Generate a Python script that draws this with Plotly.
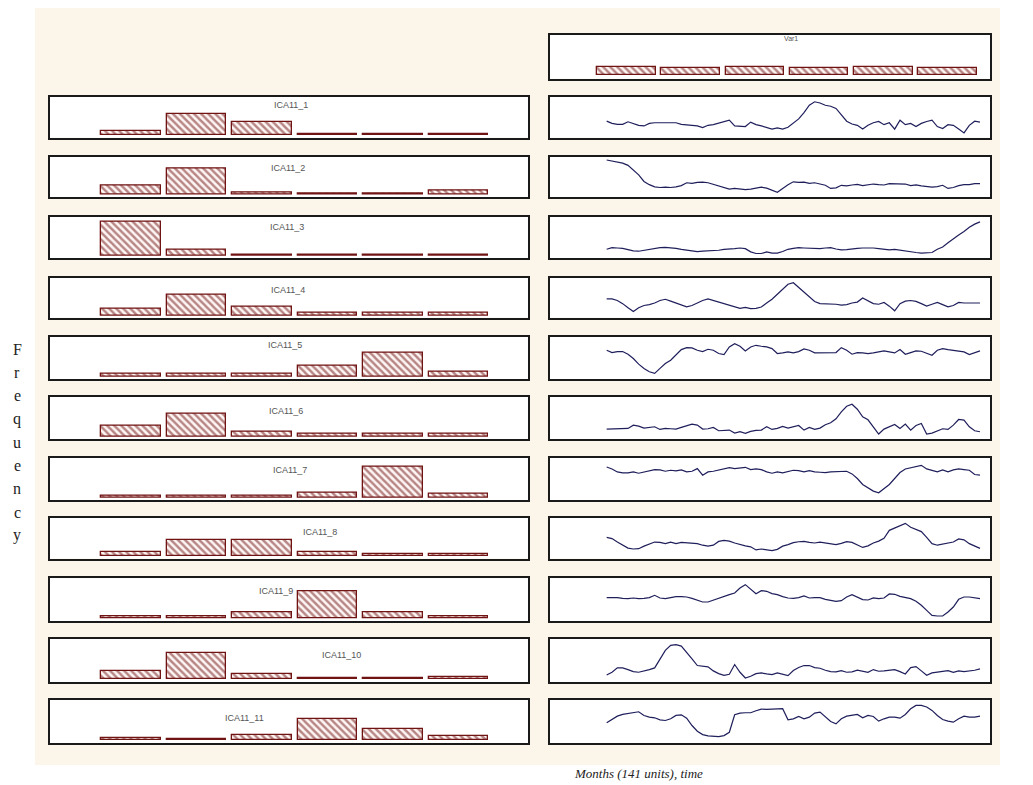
import plotly.graph_objects as go

W, H = 1033, 785

# ---------------- data ----------------
months = list(range(1, 142, 2))  # sampled months (141 units)

series_names = ["ICA11_1", "ICA11_2", "ICA11_3", "ICA11_4", "ICA11_5", "ICA11_6",
                "ICA11_7", "ICA11_8", "ICA11_9", "ICA11_10", "ICA11_11"]

ica11_1 = [55, 48, 45, 45, 53, 47, 42, 40, 48, 50, 50, 50, 52, 50, 45, 44, 42, 40, 35, 42,
           44, 48, 54, 58, 40, 38, 38, 52, 44, 40, 34, 30, 34, 30, 36, 50, 62, 82, 105, 116,
           112, 105, 102, 95, 75, 55, 46, 42, 30, 42, 50, 54, 44, 50, 30, 58, 44, 48, 38, 48,
           54, 58, 38, 32, 44, 42, 30, 18, 42, 55, 52]
ica11_2 = [120, 117, 115, 110, 103, 88, 73, 52, 42, 35, 33, 34, 33, 35, 39, 48, 46, 49, 50, 48,
           43, 38, 31, 28, 30, 28, 26, 28, 31, 34, 31, 24, 18, 30, 42, 51, 49, 50, 46, 48,
           45, 40, 30, 32, 40, 38, 41, 43, 39, 42, 44, 42, 41, 45, 44, 43, 44, 39, 41, 38,
           35, 34, 36, 40, 30, 33, 39, 42, 42, 45, 45]
ica11_3 = [30, 35, 34, 33, 29, 25, 24, 27, 30, 32, 35, 36, 35, 33, 30, 27, 25, 23, 24, 25,
           25, 27, 30, 30, 32, 34, 32, 22, 17, 17, 22, 18, 18, 23, 30, 33, 35, 34, 33, 31,
           32, 34, 35, 31, 28, 29, 32, 33, 34, 35, 34, 32, 30, 28, 30, 27, 24, 23, 20, 18,
           18, 20, 30, 37, 50, 63, 74, 85, 98, 108, 115]
ica11_4 = [63, 63, 58, 48, 35, 23, 35, 42, 45, 50, 58, 62, 56, 50, 42, 38, 42, 50, 58, 63,
           58, 53, 50, 45, 38, 33, 36, 32, 33, 37, 50, 62, 78, 95, 110, 115, 100, 85, 72, 55,
           48, 48, 46, 46, 43, 45, 50, 53, 66, 58, 48, 46, 52, 40, 25, 48, 56, 58, 55, 48,
           40, 46, 52, 45, 38, 42, 52, 50, 50, 48, 50]
ica11_5 = [90, 83, 86, 86, 78, 65, 48, 35, 25, 20, 35, 50, 60, 76, 92, 98, 97, 90, 86, 93,
           90, 80, 77, 100, 110, 102, 88, 100, 105, 102, 100, 95, 80, 82, 85, 82, 86, 94, 90, 82,
           82, 82, 82, 83, 98, 90, 78, 83, 82, 80, 82, 85, 88, 85, 82, 92, 78, 83, 88, 87,
           80, 75, 90, 95, 92, 90, 88, 85, 77, 82, 88]
ica11_6 = [33, 33, 33, 33, 35, 45, 42, 36, 37, 40, 32, 35, 34, 33, 38, 43, 48, 45, 33, 34,
           38, 28, 29, 30, 21, 25, 20, 26, 29, 30, 40, 32, 35, 41, 36, 40, 44, 30, 38, 32,
           36, 46, 52, 64, 85, 102, 108, 93, 70, 61, 40, 18, 33, 40, 47, 35, 48, 30, 44, 50,
           18, 21, 28, 34, 32, 45, 62, 60, 40, 28, 25]
ica11_7 = [103, 97, 88, 85, 85, 88, 84, 87, 90, 95, 94, 90, 93, 91, 94, 88, 90, 98, 78, 88,
           90, 93, 98, 101, 98, 100, 102, 95, 97, 95, 88, 84, 88, 85, 90, 93, 92, 88, 92, 88,
           87, 86, 88, 88, 90, 90, 82, 68, 50, 40, 30, 25, 37, 50, 68, 86, 97, 100, 105, 108,
           97, 93, 88, 94, 88, 94, 97, 95, 93, 80, 78]
ica11_8 = [70, 66, 55, 45, 36, 33, 34, 42, 48, 55, 54, 50, 55, 50, 54, 52, 50, 50, 45, 42,
           45, 57, 60, 58, 52, 47, 43, 40, 30, 33, 31, 28, 32, 42, 47, 53, 56, 57, 54, 52,
           55, 52, 48, 47, 51, 56, 54, 47, 38, 43, 52, 58, 67, 92, 100, 107, 114, 102, 95, 88,
           70, 50, 45, 48, 52, 55, 65, 62, 50, 42, 35]
ica11_9 = [73, 74, 73, 71, 70, 72, 70, 71, 73, 80, 72, 70, 73, 76, 76, 75, 71, 65, 60, 60,
           66, 72, 78, 82, 87, 102, 112, 97, 85, 94, 92, 85, 82, 76, 72, 71, 73, 78, 72, 73,
           73, 68, 65, 62, 64, 75, 82, 75, 67, 66, 72, 70, 72, 84, 83, 77, 73, 70, 62, 50,
           35, 20, 18, 18, 30, 45, 68, 75, 75, 72, 70]
ica11_10 = [24, 32, 45, 45, 40, 34, 32, 35, 40, 45, 70, 97, 112, 114, 110, 92, 72, 52, 50, 48,
            36, 28, 23, 26, 55, 32, 15, 20, 28, 30, 27, 25, 30, 27, 22, 37, 46, 52, 52, 46,
            44, 38, 34, 33, 37, 32, 33, 38, 35, 32, 40, 35, 36, 38, 40, 34, 27, 46, 49, 36,
            23, 30, 33, 36, 37, 32, 36, 34, 35, 38, 42]
ica11_11 = [63, 74, 83, 88, 90, 92, 96, 85, 80, 78, 72, 70, 75, 85, 87, 77, 55, 38, 28, 24,
            22, 22, 25, 35, 87, 92, 93, 93, 99, 104, 103, 104, 105, 105, 72, 75, 82, 75, 80, 92,
            95, 80, 67, 60, 75, 83, 86, 88, 78, 85, 82, 68, 75, 80, 80, 77, 88, 105, 115, 115,
            110, 100, 85, 73, 68, 65, 75, 83, 80, 80, 83]

bins = [1, 2, 3, 4, 5, 6]
var1_counts = [24, 23, 24, 23, 24, 23]
hist_ica11_1 = [13, 69, 44, 5, 5, 5]
hist_ica11_2 = [31, 84, 7, 3, 3, 13]
hist_ica11_3 = [108, 19, 4, 4, 3, 3]
hist_ica11_4 = [23, 68, 29, 7, 7, 7]
hist_ica11_5 = [7, 7, 8, 32, 73, 14]
hist_ica11_6 = [33, 70, 14, 8, 8, 8]
hist_ica11_7 = [5, 5, 6, 16, 96, 13]
hist_ica11_8 = [13, 51, 51, 13, 7, 6]
hist_ica11_9 = [6, 6, 20, 83, 18, 8]
hist_ica11_10 = [27, 82, 17, 4, 4, 7]
hist_ica11_11 = [8, 3, 16, 65, 34, 15]

series_values = [ica11_1, ica11_2, ica11_3, ica11_4, ica11_5, ica11_6,
                 ica11_7, ica11_8, ica11_9, ica11_10, ica11_11]
hist_counts = [hist_ica11_1, hist_ica11_2, hist_ica11_3, hist_ica11_4, hist_ica11_5,
               hist_ica11_6, hist_ica11_7, hist_ica11_8, hist_ica11_9, hist_ica11_10,
               hist_ica11_11]

# ---------------- layout geometry (pixels) ----------------
row_tops = [97, 156.5, 216.7, 277.7, 336.7, 396.7, 457.7, 518, 578.3, 639, 700]
row_bots = [137.7, 197, 258, 317.7, 379, 439, 500, 558.5, 621, 682, 743]
left_x = (50, 528)
right_x = (550, 990)
var1_y = (35, 78.6)

label_pos = [(291, 105), (288, 168), (287, 227), (288, 290), (285, 345), (286, 411),
             (290, 470), (320, 532), (276, 591), (341, 655), (244, 718)]

def fx(px):
    return px / W

def fy(py):
    return 1 - py / H

CREAM = "#fbf6e9"
BAR_DARK = "#701313"
LINE_COL = "#1f1f5c"

fig = go.Figure()
axis_common = dict(showticklabels=False, showgrid=False, zeroline=False, showline=True,
                   mirror=True, linecolor="#1a1a1a", linewidth=1.6, ticks="", fixedrange=True)

layout_axes = {}
# paper is cream; white margins around the cream page area
white = dict(type="rect", xref="paper", yref="paper", fillcolor="white",
             line=dict(width=0), layer="below")
shapes = [
    dict(white, x0=0, x1=fx(35), y0=0, y1=1),
    dict(white, x0=fx(1000), x1=1, y0=0, y1=1),
    dict(white, x0=0, x1=1, y0=fy(8), y1=1),
    dict(white, x0=0, x1=1, y0=0, y1=fy(765)),
]
n = 0

def add_axes(xdom, ydom, xrange, yrange):
    global n
    n += 1
    xa = "xaxis" if n == 1 else f"xaxis{n}"
    ya = "yaxis" if n == 1 else f"yaxis{n}"
    xs = "x" if n == 1 else f"x{n}"
    ys = "y" if n == 1 else f"y{n}"
    layout_axes[xa] = dict(domain=[fx(xdom[0]), fx(xdom[1])], range=xrange,
                           anchor=ys, **axis_common)
    layout_axes[ya] = dict(domain=[fy(ydom[1]), fy(ydom[0])], range=yrange,
                           anchor=xs, **axis_common)
    return xs, ys

def bar_trace(counts, xr, yr):
    return go.Bar(x=bins, y=counts, xaxis=xr, yaxis=yr, width=0.915,
                  marker=dict(color="#fdf6f4",
                              line=dict(color=BAR_DARK, width=1.3),
                              pattern=dict(shape="\\", fgcolor=BAR_DARK, size=5,
                                           solidity=0.48, fillmode="overlay")),
                  hoverinfo="skip")

def ann(text, px, py, size, family, color):
    return dict(text=text, x=fx(px), y=fy(py), xref="paper", yref="paper",
                xanchor="center", yanchor="middle", showarrow=False,
                font=dict(family=family, size=size, color=color))

SANS = "Arial, Liberation Sans, sans-serif"
SERIF = "Liberation Serif, Times New Roman, serif"

# Var1 histogram (top right)
xr, yr = add_axes(right_x, var1_y, [-0.192, 6.662], [-10, 121])
fig.add_trace(bar_trace(var1_counts, xr, yr))
annotations = [ann("Var1", 791, 39, 7, SANS, "#555")]

for i in range(11):
    # histogram panel
    xr, yr = add_axes(left_x, (row_tops[i], row_bots[i]), [-0.237, 7.061], [-8, 124])
    fig.add_trace(bar_trace(hist_counts[i], xr, yr))
    lx, ly = label_pos[i]
    annotations.append(ann(series_names[i], lx, ly, 9, SANS, "#555"))
    # time-series panel
    xr, yr = add_axes(right_x, (row_tops[i], row_bots[i]), [-20.25, 144.75], [3, 131])
    fig.add_trace(go.Scatter(x=months, y=series_values[i], xaxis=xr, yaxis=yr, mode="lines",
                             line=dict(color=LINE_COL, width=1.2), hoverinfo="skip"))

# "Frequency" stacked letters
for k, ch in enumerate("Frequency"):
    annotations.append(ann(ch, 17, 349 + 23.3 * k, 16, SERIF, "#222"))

annotations.append(ann("<i>Months (141 units), time</i>", 638, 773, 13, SERIF, "#222"))

fig.update_layout(
    width=W, height=H, margin=dict(l=0, r=0, t=0, b=0),
    paper_bgcolor=CREAM, plot_bgcolor="white", showlegend=False,
    bargap=0, annotations=annotations, shapes=shapes,
    **layout_axes,
)

fig.write_html("out.html")
